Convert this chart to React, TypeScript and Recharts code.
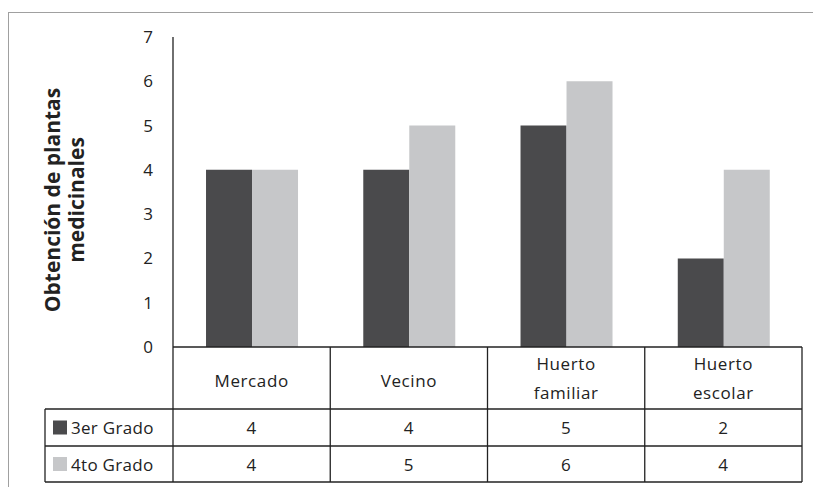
import React from "react";
import { BarChart, Bar, XAxis, YAxis } from "recharts";

const categories = ["Mercado", "Vecino", "Huerto familiar", "Huerto escolar"];
const tercerGrado = [4, 4, 5, 2];
const cuartoGrado = [4, 5, 6, 4];
const yTicks = [0, 1, 2, 3, 4, 5, 6, 7];
const seriesNames = ["3er Grado", "4to Grado"];
const yLabel = ["Obtención de plantas", "medicinales"];

const data = categories.map((c, i) => ({
  name: c,
  s3: tercerGrado[i],
  s4: cuartoGrado[i],
}));

const W = 813;
const H = 487;
const PLOT_LEFT = 173;
const PLOT_RIGHT = 802;
const PLOT_TOP = 37;
const PLOT_BOTTOM = 347;
const Y_AXIS_W = 60;
const X_AXIS_H = 135;
const TABLE_LEFT = 45;
const ROW1 = 62; // category row height
const ROW2 = 37;
const ROW3 = 36;
const DARK = "#4a4a4c";
const LIGHT = "#c6c7c9";
const LINE = "#222";
const FONT = "'Open Sans', sans-serif";

const colW = (PLOT_RIGHT - PLOT_LEFT) / categories.length;

function TableTick(props: any) {
  const { x, y, payload } = props;
  const i = payload.index;
  const left = x - colW / 2;
  const words = String(payload.value).split(" ");
  const y1 = y + ROW1;
  const y2 = y1 + ROW2;
  const y3 = y2 + ROW3;
  return (
    <g fontFamily={FONT} fontSize={17} fill="#222" letterSpacing={0.6}>
      <line x1={left} x2={left} y1={y} y2={y3} stroke={LINE} strokeWidth={1.3} />
      {i === categories.length - 1 && (
        <line x1={left + colW} x2={left + colW} y1={y} y2={y3} stroke={LINE} strokeWidth={1.3} />
      )}
      {i === 0 && (
        <g>
          <line x1={TABLE_LEFT} x2={PLOT_RIGHT} y1={y1} y2={y1} stroke={LINE} strokeWidth={1.3} />
          <line x1={TABLE_LEFT} x2={PLOT_RIGHT} y1={y2} y2={y2} stroke={LINE} strokeWidth={1.3} />
          <line x1={TABLE_LEFT} x2={PLOT_RIGHT} y1={y3} y2={y3} stroke={LINE} strokeWidth={1.3} />
          <line x1={TABLE_LEFT} x2={TABLE_LEFT} y1={y1} y2={y3} stroke={LINE} strokeWidth={1.3} />
          <rect x={53} y={y1 + ROW2 / 2 - 7} width={14} height={14} fill={DARK} />
          <text x={71} y={y1 + ROW2 / 2} dominantBaseline="central" letterSpacing={0.3}>
            {seriesNames[0]}
          </text>
          <rect x={53} y={y2 + ROW3 / 2 - 7} width={14} height={14} fill={LIGHT} />
          <text x={71} y={y2 + ROW3 / 2} dominantBaseline="central" letterSpacing={0.3}>
            {seriesNames[1]}
          </text>
        </g>
      )}
      {words.length === 1 ? (
        <text x={x} y={y + ROW1 / 2 + 2} textAnchor="middle" dominantBaseline="central">
          {words[0]}
        </text>
      ) : (
        <text x={x} textAnchor="middle" dominantBaseline="central">
          <tspan x={x} y={y + 16}>{words[0]}</tspan>
          <tspan x={x} y={y + 45}>{words.slice(1).join(" ")}</tspan>
        </text>
      )}
      <text x={x} y={y1 + ROW2 / 2} textAnchor="middle" dominantBaseline="central">
        {tercerGrado[i]}
      </text>
      <text x={x} y={y2 + ROW3 / 2} textAnchor="middle" dominantBaseline="central">
        {cuartoGrado[i]}
      </text>
    </g>
  );
}

function YTitle(props: any) {
  const vb = props.viewBox || {};
  const cy = (vb.y ?? PLOT_TOP) + (vb.height ?? PLOT_BOTTOM - PLOT_TOP) / 2 + 8;
  return (
    <g fontFamily={FONT} fontSize={21} fontWeight="bold" fill="#222">
      <text x={52} y={cy} transform={`rotate(-90 52 ${cy})`} textAnchor="middle" dominantBaseline="central">
        {yLabel[0]}
      </text>
      <text x={76} y={cy} transform={`rotate(-90 76 ${cy})`} textAnchor="middle" dominantBaseline="central">
        {yLabel[1]}
      </text>
    </g>
  );
}

export default function App() {
  return (
    <div
      style={{
        position: "absolute",
        left: 0,
        top: 0,
        width: W,
        height: H,
        background: "#fff",
      }}
    >
      <div
        style={{
          position: "absolute",
          left: 8,
          top: 12,
          width: W - 8,
          height: H - 12,
          borderLeft: "1.5px solid #a0a0a0",
          borderTop: "1.5px solid #a0a0a0",
        }}
      />
      <div style={{ position: "absolute", left: 0, top: 0 }}>
        <BarChart
          width={W}
          height={H}
          data={data}
          barCategoryGap="21%"
          barGap={0}
          margin={{
            top: PLOT_TOP,
            right: W - PLOT_RIGHT,
            left: PLOT_LEFT - Y_AXIS_W,
            bottom: H - PLOT_BOTTOM - X_AXIS_H,
          }}
        >
          <XAxis
            dataKey="name"
            height={X_AXIS_H}
            interval={0}
            tickLine={false}
            tickSize={0}
            tickMargin={0}
            axisLine={{ stroke: LINE, strokeWidth: 1.3 }}
            tick={<TableTick />}
          />
          <YAxis
            width={Y_AXIS_W}
            domain={[0, 7]}
            ticks={yTicks}
            interval={0}
            tickLine={false}
            tickSize={0}
            tickMargin={20}
            axisLine={{ stroke: LINE, strokeWidth: 1.3 }}
            tick={{ fontFamily: FONT, fontSize: 17, fill: "#222" }}
            label={{ content: <YTitle /> }}
          />
          <Bar dataKey="s3" name={seriesNames[0]} fill={DARK} isAnimationActive={false} />
          <Bar dataKey="s4" name={seriesNames[1]} fill={LIGHT} isAnimationActive={false} />
        </BarChart>
      </div>
    </div>
  );
}
